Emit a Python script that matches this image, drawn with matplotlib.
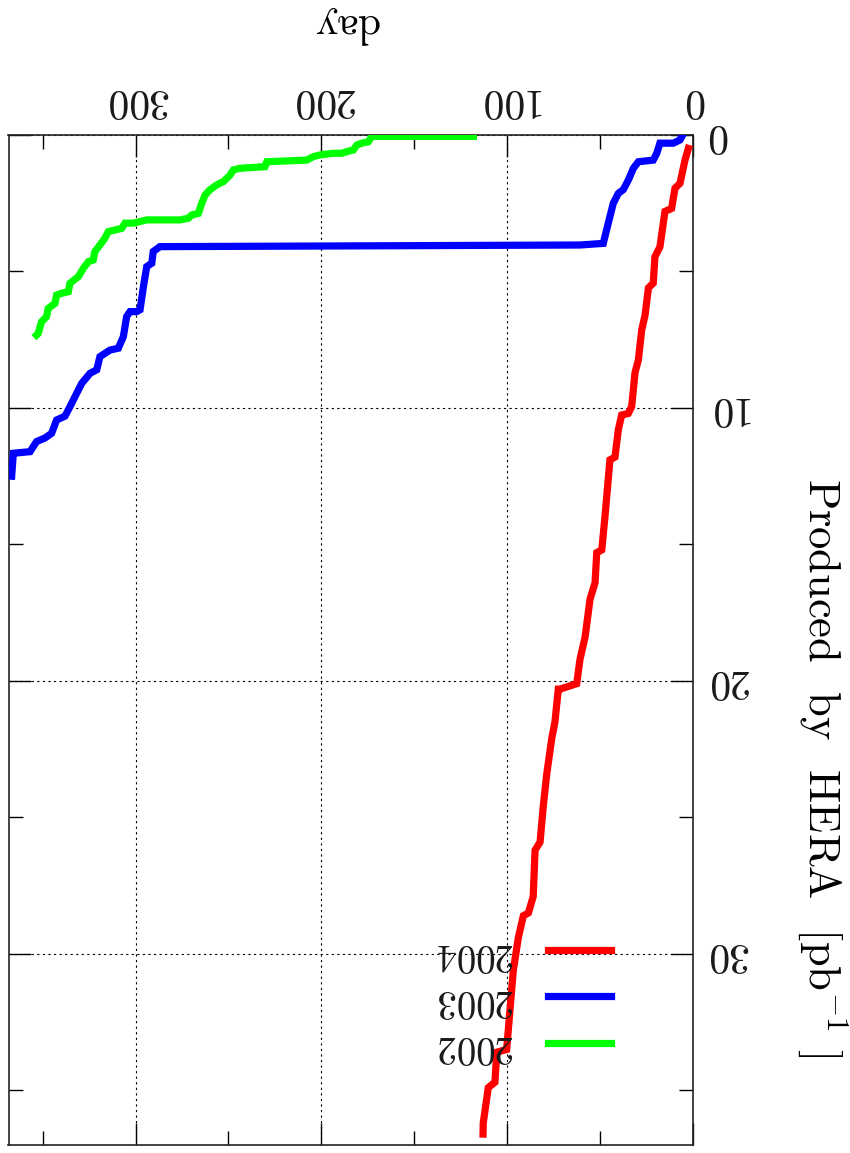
import numpy as np
import matplotlib
matplotlib.use('Agg')
import matplotlib.pyplot as plt
from matplotlib.ticker import MultipleLocator

plt.rcParams['font.family'] = ['cmr10', 'DejaVu Serif']
plt.rcParams['mathtext.fontset'] = 'cm'
plt.rcParams['axes.unicode_minus'] = False
plt.rcParams['text.color'] = '#1a1a1a'
plt.rcParams['xtick.labelcolor'] = '#1a1a1a'
plt.rcParams['ytick.labelcolor'] = '#1a1a1a'

# integrated luminosity per year: day of year vs pb^-1
day_2004 = [2.5, 4.3, 7.0, 9.7, 11.5, 15.1, 17.8, 20.5, 21.4, 24.0, 25.8, 27.6, 29.4, 31.2, 33.0,
            34.8, 38.4, 40.2, 42.0, 44.7, 47.4, 49.1, 51.8, 52.7, 55.4, 58.1, 60.8, 62.6, 71.6,
            72.5, 74.3, 76.0, 78.7, 80.6, 82.3, 85.0, 86.0, 88.6, 91.3, 94.0, 96.7, 98.5, 100.3,
            105.6, 106.6, 110.2, 112.9, 113.0]
lumi_2004 = [0.49, 0.92, 1.77, 1.95, 2.69, 2.8, 4.1, 4.46, 5.43, 5.6, 6.6, 7.14, 8.24, 8.7, 9.95,
             10.2, 10.26, 10.8, 11.8, 11.9, 14.0, 15.2, 15.3, 16.4, 17.0, 18.4, 19.2, 20.1, 20.3,
             20.3, 21.5, 22.1, 23.4, 24.6, 25.9, 26.2, 27.9, 28.5, 28.6, 29.4, 30.6, 32.05, 33.5,
             33.6, 34.7, 34.9, 36.2, 36.6]

day_2003 = [5.5, 7.0, 10.6, 17.8, 19.5, 21.4, 29.4, 32.1, 34.8, 37.5, 40.2, 42.9, 45.6, 48.3,
            60.8, 286.9, 290.5, 291.3, 294.0, 295.8, 297.6, 299.4, 303.0, 304.8, 306.6, 309.3,
            313.8, 319.2, 320.9, 324.5, 329.0, 331.7, 335.3, 338.0, 342.5, 345.2, 348.8, 353.3,
            356.8, 365.8, 366.7]
lumi_2003 = [0.0, 0.18, 0.3, 0.3, 0.67, 0.92, 0.98, 1.22, 1.65, 2.0, 2.14, 2.5, 3.23, 3.97,
             4.03, 4.09, 4.27, 4.7, 4.82, 5.56, 6.4, 6.47, 6.47, 6.65, 7.39, 7.81,
             7.88, 8.12, 8.6, 8.73, 9.1, 9.46, 9.95, 10.3, 10.44, 10.93, 11.1, 11.23,
             11.6, 11.66, 12.5]

day_2002 = [118.2, 170.2, 172.9, 174.8, 178.3, 181.0, 182.8, 186.4, 189.1, 193.6, 200.7, 204.3,
            207.9, 229.4, 230.4, 243.8, 247.4, 249.2, 252.8, 256.4, 260.0, 262.6, 264.4, 266.2,
            269.8, 271.6, 276.1, 294.0, 297.6, 301.2, 305.7, 307.5, 311.1, 314.7, 316.5, 319.2,
            321.9, 322.8, 325.4, 328.1, 330.8, 335.3, 336.2, 339.8, 342.5, 343.4, 347.0, 347.9,
            350.6, 352.4, 353.3]
lumi_2002 = [0.05, 0.05, 0.06, 0.25, 0.3, 0.37, 0.55, 0.61, 0.67, 0.67, 0.73, 0.79,
             0.92, 0.98, 1.16, 1.22, 1.28, 1.47, 1.71, 1.83, 2.01, 2.2, 2.5, 2.87,
             2.93, 3.05, 3.11, 3.11, 3.17, 3.23, 3.23, 3.42, 3.48, 3.54, 3.78, 4.03,
             4.27, 4.58, 4.64, 4.88, 5.19, 5.43, 5.74, 5.8, 5.86, 6.17, 6.35, 6.65,
             6.84, 7.27, 7.33]

years = ['2004', '2003', '2002']
colors = ['#ff0000', '#0000ff', '#00ff00']

fig = plt.figure(figsize=(8.5, 11.53), dpi=100)
ax = fig.add_axes([8.5/850, 1-1145/1153, 684.5/850, 1010/1153])

for d, l, c, y in zip([day_2004, day_2003, day_2002], [lumi_2004, lumi_2003, lumi_2002], colors, years):
    ax.plot(d, l, color=c, lw=5.2, label=y, solid_joinstyle='miter', zorder=3)

# page is upside down: origin in the top right corner
ax.set_xlim(368.4, 0)
ax.set_ylim(37, 0)

ax.xaxis.set_major_locator(MultipleLocator(100))
ax.xaxis.set_minor_locator(MultipleLocator(50))
ax.yaxis.set_major_locator(MultipleLocator(10))
ax.yaxis.set_minor_locator(MultipleLocator(5))
ax.tick_params(which='both', direction='in', top=True, bottom=True, left=True, right=True,
               labeltop=True, labelbottom=False, labelleft=False, labelright=True,
               width=1, color='k')
ax.tick_params(which='major', length=16)
ax.tick_params(which='minor', length=10)
ax.tick_params(axis='x', labelsize=30, pad=12, labelrotation=180)
ax.tick_params(axis='y', labelsize=30, pad=9, labelrotation=180)
plt.setp(ax.get_yticklabels(), va='center')
for s in ax.spines.values():
    s.set_linewidth(1.2)
    s.set_color('#222222')

ax.grid(True, which='major', color='k', linestyle=(0, (2, 3)), linewidth=0.8)

ax.set_xlabel('day', fontsize=30, rotation=180, va='center', ha='center')
ax.xaxis.set_label_coords((346-8.5)/684.5, (1145-25)/1010)
ax.set_ylabel('Produced  by  HERA  [pb$^{-1}$ ]', fontsize=32, rotation=-90, va='center', ha='center')
ax.yaxis.set_label_coords((822-8.5)/684.5, (1145-768)/1010)

leg = ax.legend(loc='center', bbox_to_anchor=(522/850, 1-1000/1153), bbox_transform=fig.transFigure,
                frameon=False, markerfirst=False, fontsize=28, handlelength=1.63,
                handletextpad=0.95, labelspacing=0.27)
for t in leg.get_texts():
    t.set_rotation(180)

fig.savefig('out.png', dpi=100)
